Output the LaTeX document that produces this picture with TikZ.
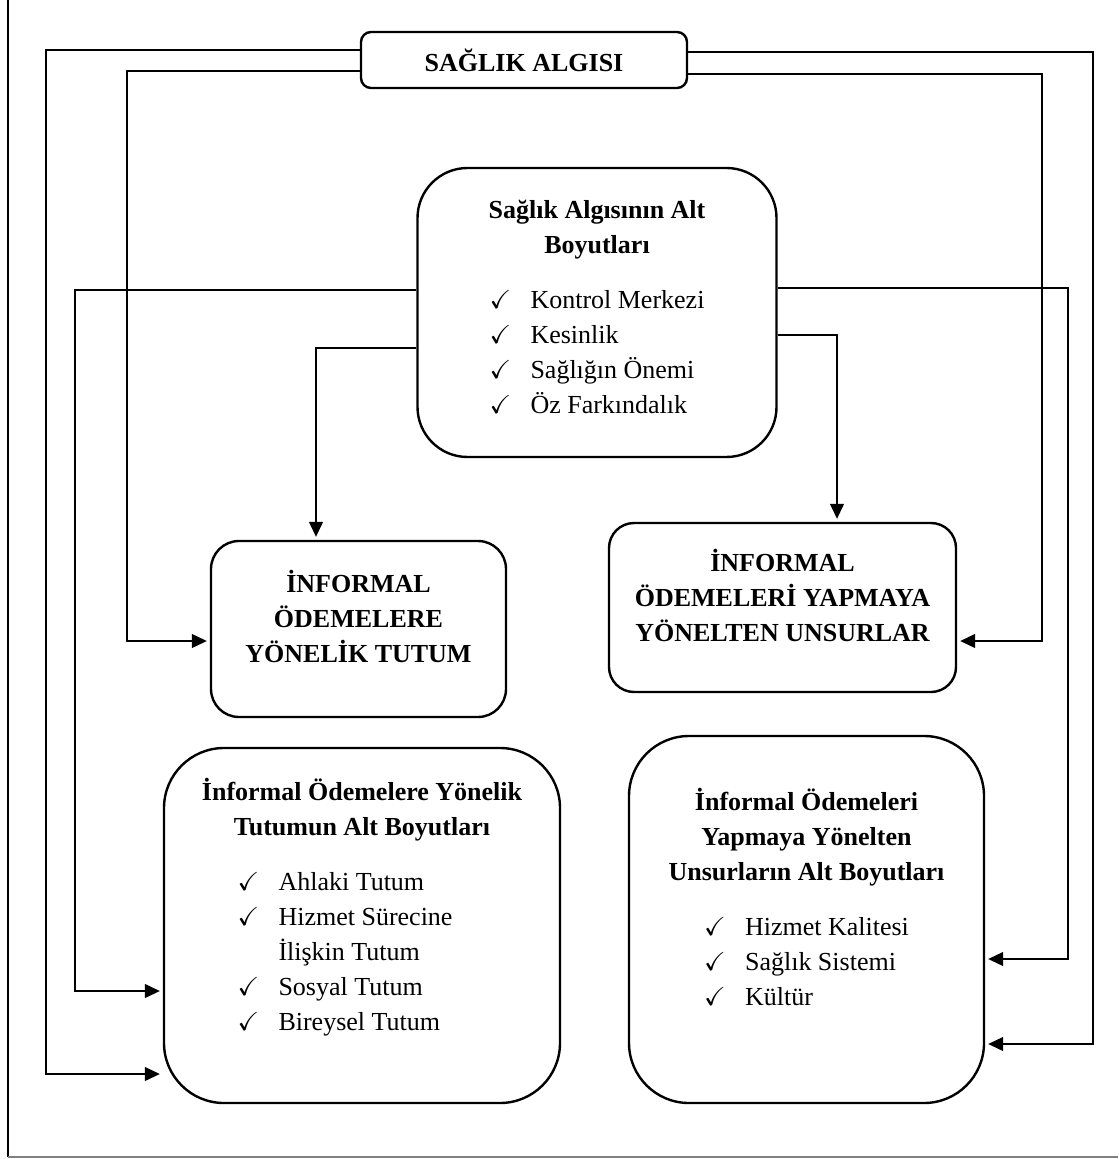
\documentclass[tikz,border=0pt]{standalone}
\usepackage{amssymb}
\usepackage{fontspec}
\setmainfont{Liberation Serif}
\usetikzlibrary{arrows.meta}
\newcommand{\chk}{\makebox[20.5pt][l]{$\checkmark$}}

\begin{document}
\begin{tikzpicture}[
  x=0.5pt, y=-0.5pt,
  box/.style={draw, line width=1.2pt, align=center, inner sep=0pt, font=\fontsize{13}{17.5}\selectfont},
  capsbox/.style={box, font=\fontsize{13}{17.5}\selectfont\bfseries},
  dep/.style={-{Triangle[length=7.5pt, width=7pt]}, line width=0.6pt, shorten >=1.5pt},
]
  \useasboundingbox (0,0) rectangle (1118,1159);

  % Frame
  \draw[line width=1.1pt] (8,0) -- (8,1157);
  \draw[gray, line width=0.9pt] (8,1157) -- (1118,1157);

  % Health perception
  \node[capsbox, rounded corners=5pt, minimum width=163pt, minimum height=28pt] (algisi) at (524,60) {SAĞLIK ALGISI};
  \node[box, rounded corners=25pt, minimum width=179.5pt, minimum height=144.5pt] (altalgi) at (597,312.5) {%
    \textbf{Sağlık Algısının Alt}\\\textbf{Boyutları}\\[10pt]
    \begin{tabular}[t]{@{}l@{}l@{}}
      \chk & Kontrol Merkezi\\
      \chk & Kesinlik\\
      \chk & Sağlığın Önemi\\
      \chk & Öz Farkındalık
    \end{tabular}};

  % Informal payments
  \node[capsbox, rounded corners=14pt, minimum width=147.5pt, minimum height=88pt] (tutum) at (358.5,629) {İNFORMAL\\ÖDEMELERE\\YÖNELİK TUTUM\\[-4.5pt]\mbox{}};
  \node[capsbox, rounded corners=12.5pt, minimum width=173.5pt, minimum height=84.5pt] (unsur) at (782.5,607.5) {İNFORMAL\\ÖDEMELERİ YAPMAYA\\YÖNELTEN UNSURLAR\\[-5.5pt]\mbox{}};

  % Sub dimensions
  \node[box, rounded corners=30pt, minimum width=198pt, minimum height=177.5pt] (alttutum) at (362,925.5) {%
    \textbf{İnformal Ödemelere Yönelik}\\\textbf{Tutumun Alt Boyutları}\\[10pt]
    \begin{tabular}[t]{@{}l@{}l@{\hspace{17pt}}}
      \chk & Ahlaki Tutum\\
      \chk & Hizmet Sürecine\\
           & İlişkin Tutum\\
      \chk & Sosyal Tutum\\
      \chk & Bireysel Tutum
    \end{tabular}\\[14.5pt]\mbox{}};
  \node[box, rounded corners=30pt, minimum width=177.5pt, minimum height=183.5pt] (altunsur) at (806.5,919.5) {%
    \textbf{İnformal Ödemeleri}\\\textbf{Yapmaya Yönelten}\\\textbf{Unsurların Alt Boyutları}\\[10pt]
    \begin{tabular}[t]{@{}l@{}l@{}}
      \chk & Hizmet Kalitesi\\
      \chk & Sağlık Sistemi\\
      \chk & Kültür
    \end{tabular}\\[16.5pt]\mbox{}};

  % Elbow points
  \coordinate (c1) at (46,1074);
  \coordinate (c2) at (127,641);
  \coordinate (c3) at (1093,1044);
  \coordinate (c4) at (1042,641);
  \coordinate (c5) at (75,991);
  \coordinate (c6) at (316,348);
  \coordinate (c7) at (1068,959);
  \coordinate (c8) at (837,335);

  % From health perception
  \draw[dep] ([yshift=5pt]algisi.west) -| (c1) -- (c1 -| alttutum.west);
  \draw[dep] ([yshift=-5.5pt]algisi.west) -| (c2) -- (c2 -| tutum.west);
  \draw[dep] ([yshift=4pt]algisi.east) -| (c3) -- (c3 -| altunsur.east);
  \draw[dep] ([yshift=-7pt]algisi.east) -| (c4) -- (c4 -| unsur.east);

  % From its sub dimensions
  \draw[dep] ([yshift=11.25pt]altalgi.west) -| (c5) -- (c5 -| alttutum.west);
  \draw[dep] ([yshift=-17.75pt]altalgi.west) -| (c6 |- tutum.north);
  \draw[dep] ([yshift=12.25pt]altalgi.east) -| (c7) -- (c7 -| altunsur.east);
  \draw[dep] ([yshift=-11.25pt]altalgi.east) -| (c8 |- unsur.north);
\end{tikzpicture}
\end{document}
